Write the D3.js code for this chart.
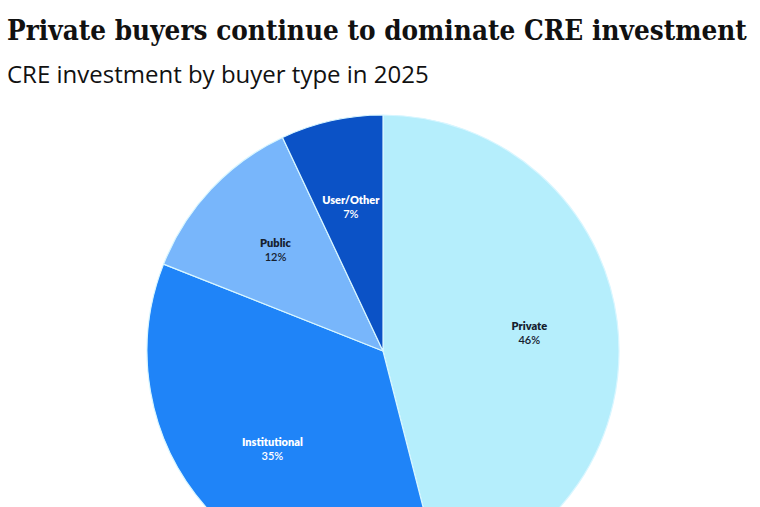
<!DOCTYPE html>
<html>
<head>
<meta charset="utf-8">
<script src="https://cdn.jsdelivr.net/npm/d3@7"></script>
<style>
  html, body { margin: 0; padding: 0; background: #fff; }
  svg { display: block; }
</style>
</head>
<body>
<div id="chart"></div>
<script>
// Share of CRE investment by buyer type, 2025 (%)
const buyerTypes = ["Private", "Institutional", "Public", "User/Other"]
const shares = [46, 35, 12, 7]
const sliceColors = ["#b5eefc", "#1f84f8", "#78b6fb", "#0b52c6"]
const labelColors = ["#16202e", "#ffffff", "#16202e", "#ffffff"]

const title = "Private buyers continue to dominate CRE investment"
const subtitle = "CRE investment by buyer type in 2025"

const width = 760
const height = 507
const radius = 236
const center = { x: 383, y: 351 }

const svg = d3.select("#chart")
  .append("svg")
  .attr("width", width)
  .attr("height", height)
  .attr("viewBox", [0, 0, width, height])

const data = buyerTypes.map((name, i) => ({ name, value: shares[i], i }))

const pie = d3.pie()
  .value(d => d.value)
  .sort(null)

const arc = d3.arc()
  .innerRadius(0)
  .outerRadius(radius)

const labelArc = d3.arc()
  .innerRadius(radius * 0.625)
  .outerRadius(radius * 0.625)

const g = svg.append("g")
  .attr("transform", `translate(${center.x},${center.y})`)

const arcs = pie(data)

g.selectAll("path")
  .data(arcs)
  .join("path")
    .attr("d", arc)
    .attr("fill", d => sliceColors[d.data.i])
    .attr("stroke", "#d8f6ff")
    .attr("stroke-width", 1.2)
    .attr("stroke-linejoin", "round")

const labels = g.selectAll("g.label")
  .data(arcs)
  .join("g")
    .attr("class", "label")
    .attr("transform", d => `translate(${labelArc.centroid(d)})`)
    .attr("fill", d => labelColors[d.data.i])
    .attr("font-family", "Lato, 'Open Sans', sans-serif")
    .attr("text-anchor", "middle")

labels.append("text")
  .attr("y", -3)
  .attr("font-size", 11)
  .attr("font-weight", 800)
  .text(d => d.data.name)

labels.append("text")
  .attr("y", 11)
  .attr("font-size", 11)
  .attr("font-weight", 600)
  .text(d => `${d.data.value}%`)

// Title: squeeze the wide serif horizontally so it spans the same width
const titleText = svg.append("text")
  .attr("font-family", "'DejaVu Serif', serif")
  .attr("font-weight", 700)
  .attr("font-size", 28)
  .attr("fill", "#111")
  .text(title)

const titleScale = 740 / titleText.node().getComputedTextLength()
titleText.attr("transform", `translate(7,40) scale(${titleScale},1)`)

svg.append("text")
  .attr("x", 7)
  .attr("y", 83)
  .attr("font-family", "'Open Sans', sans-serif")
  .attr("font-size", 24)
  .attr("fill", "#111")
  .text(subtitle)
</script>
</body>
</html>
